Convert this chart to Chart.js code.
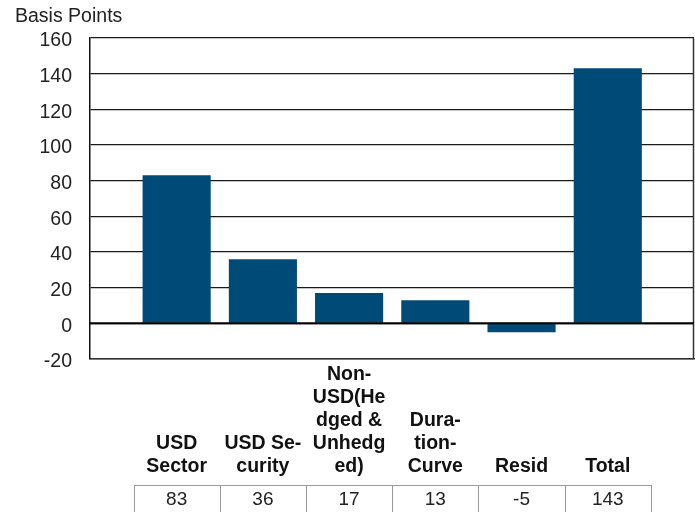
<!DOCTYPE html>
<html>
<head>
<meta charset="utf-8">
<script src="https://cdn.jsdelivr.net/npm/chart.js@4/dist/chart.umd.min.js"></script>
<style>
html,body{margin:0;padding:0;background:#fff;}
#wrap{width:695px;height:512px;position:relative;}
</style>
</head>
<body>
<div id="wrap"><canvas id="c" width="695" height="512"></canvas></div>
<script>
const categories = [["USD","Sector"],["USD Se-","curity"],["Non-","USD(He","dged &","Unhedg","ed)"],["Dura-","tion-","Curve"],["Resid"],["Total"]];
const values = [83, 36, 17, 13, -5, 143];
const tableLabels = ["83","36","17","13","-5","143"];
const yTicks = [-20, 0, 20, 40, 60, 80, 100, 120, 140, 160];
const yTitle = "Basis Points";

const FONT = "'Liberation Sans', Arial, Helvetica, sans-serif";
const barColor = '#004a78';

const decor = {
  id: 'decor',
  afterDraw(chart) {
    const ctx = chart.ctx;
    const xs = chart.scales.x;
    const ys = chart.scales.y;
    const area = chart.chartArea;
    ctx.save();
    // right border
    ctx.strokeStyle = '#333';
    ctx.lineWidth = 1.5;
    ctx.beginPath();
    ctx.moveTo(area.right - 0.5, area.top);
    ctx.lineTo(area.right - 0.5, area.bottom);
    ctx.stroke();
    // zero line
    ctx.strokeStyle = '#000';
    ctx.lineWidth = 2;
    const y0 = ys.getPixelForValue(0);
    ctx.beginPath();
    ctx.moveTo(area.left, y0);
    ctx.lineTo(area.right, y0);
    ctx.stroke();
    // title
    ctx.fillStyle = '#222';
    ctx.font = '19.5px ' + FONT;
    ctx.textAlign = 'left';
    ctx.textBaseline = 'middle';
    ctx.fillText(yTitle, 15, 17);
    // category labels (bottom aligned)
    ctx.font = 'bold 19.5px ' + FONT;
    ctx.fillStyle = '#111';
    ctx.textAlign = 'center';
    ctx.textBaseline = 'middle';
    const lineH = 23;
    const lastY = 467;
    categories.forEach((lines, i) => {
      const x = xs.getPixelForValue(i);
      const n = lines.length;
      lines.forEach((t, j) => {
        ctx.fillText(t, x, lastY - (n - 1 - j) * lineH);
      });
    });
    // table
    const cw = xs.getPixelForValue(1) - xs.getPixelForValue(0);
    const top = 485.5;
    ctx.strokeStyle = '#9a9a9a';
    ctx.lineWidth = 1;
    ctx.font = '19px ' + FONT;
    ctx.fillStyle = '#222';
    tableLabels.forEach((t, i) => {
      const x = xs.getPixelForValue(i);
      const l = Math.round(x - cw / 2) + 0.5;
      const r = Math.round(x + cw / 2) + 0.5;
      ctx.strokeRect(l, top, r - l, 40);
      ctx.fillText(t, x, 500);
    });
    ctx.restore();
  }
};

new Chart(document.getElementById('c'), {
  type: 'bar',
  data: {
    datasets: [{
      data: values.map((v, i) => ({x: i, y: v})),
      backgroundColor: barColor,
      borderWidth: 0,
      barPercentage: 0.79,
      categoryPercentage: 1.0
    }]
  },
  options: {
    responsive: false,
    animation: false,
    devicePixelRatio: 1,
    layout: { padding: { top: 38, right: 1, bottom: 153, left: 0 } },
    plugins: { legend: { display: false }, tooltip: { enabled: false }, title: { display: false } },
    scales: {
      x: {
        type: 'linear',
        min: -1.005,
        max: 6.0,
        offset: false,
        grid: { display: false, drawTicks: false },
        border: { display: true, color: '#333', width: 1.5 },
        ticks: { display: false }
      },
      y: {
        min: -20,
        max: 160,
        afterBuildTicks(scale) { scale.ticks = yTicks.map(v => ({value: v})); },
        afterFit(scale) { scale.width = 90; },
        grid: { color: '#1a1a1a', lineWidth: 1.2, drawTicks: false },
        border: { display: true, color: '#111', width: 1.5 },
        ticks: {
          padding: 18,
          labelOffset: 3,
          color: '#222',
          font: { family: FONT, size: 19.5 }
        }
      }
    }
  },
  plugins: [decor]
});
</script>
</body>
</html>
